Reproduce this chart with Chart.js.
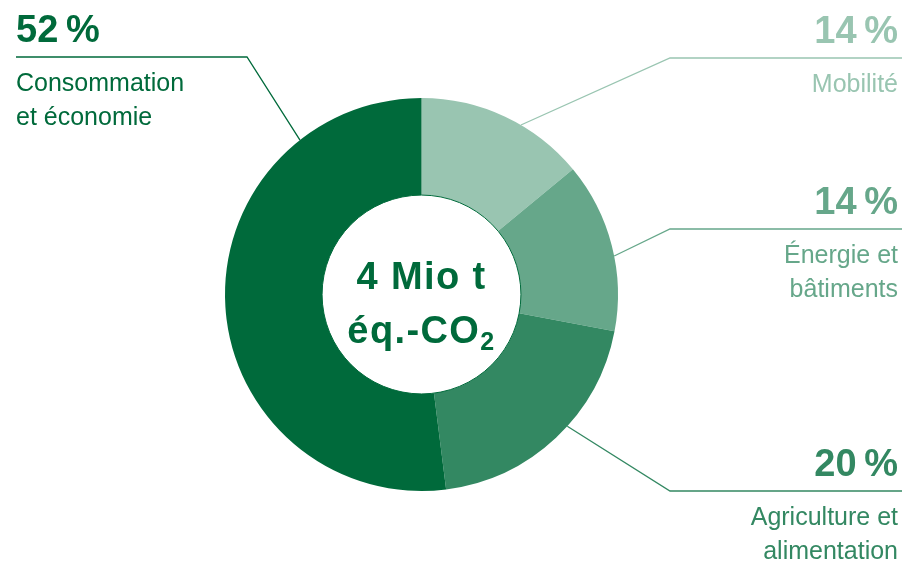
<!DOCTYPE html>
<html lang="fr">
<head>
<meta charset="utf-8">
<title>4 Mio t éq.-CO2</title>
<script src="https://cdn.jsdelivr.net/npm/chart.js@4.4.1/dist/chart.umd.min.js"></script>
<style>
  html, body { margin: 0; padding: 0; background: #ffffff; }
  #wrap { position: relative; width: 904px; height: 571px; }
</style>
</head>
<body>
<div id="wrap"><canvas id="donut"></canvas></div>
<script>
/* =========================
   DATA
========================= */

const categories = ["Mobilité", "Énergie et bâtiments", "Agriculture et alimentation", "Consommation et économie"];
const shares     = [14, 14, 20, 52];
const labelLines = [["Mobilité"], ["Énergie et", "bâtiments"], ["Agriculture et", "alimentation"], ["Consommation", "et économie"]];
const centerText = ["4 Mio t", "éq.-CO", "2"];

/* =========================
   STYLE / LAYOUT
========================= */

const colours = ["#99c5b1", "#66a78a", "#338862", "#006a3b"];
const FONT = '"Liberation Sans", Arial, Helvetica, sans-serif';

// where each callout sits: horizontal rule y, rule ends, angle (deg) where the leader hits the ring
const callouts = [
    { side: "right", lineY: 58,  x0: 670, x1: 902, hitDeg: -59.6 },
    { side: "right", lineY: 229, x0: 670, x1: 902, hitDeg: -11.3 },
    { side: "right", lineY: 491, x0: 670, x1: 902, hitDeg: 42.1 },
    { side: "left",  lineY: 57,  x0: 16,  x1: 247, hitDeg: -128.2 }
];

/* =========================
   CALLOUT PLUGIN
========================= */

const callout = {
    id: "callout",
    afterDatasetsDraw(chart){
        const ctx = chart.ctx;
        const arcs = chart.getDatasetMeta(0).data;
        const ds = chart.data.datasets[0];
        const cx = arcs[0].x, cy = arcs[0].y;

        ctx.save();

        // thin dark rim round the hole (as in the original artwork)
        ctx.strokeStyle = colours[3];
        ctx.lineWidth = 1;
        ctx.beginPath();
        ctx.arc(cx, cy, arcs[0].innerRadius, 0, Math.PI * 2);
        ctx.stroke();

        arcs.forEach((arc, i)=>{
            const c = callouts[i];
            const col = ds.backgroundColor[i];
            const a = c.hitDeg * Math.PI / 180;
            const hx = arc.x + Math.cos(a) * arc.outerRadius;
            const hy = arc.y + Math.sin(a) * arc.outerRadius;
            const elbowX = c.side === "right" ? c.x0 : c.x1;

            // leader line
            ctx.strokeStyle = col;
            ctx.lineWidth = 1.3;
            ctx.beginPath();
            ctx.moveTo(hx, hy);
            ctx.lineTo(elbowX, c.lineY);
            ctx.lineTo(c.side === "right" ? c.x1 : c.x0, c.lineY);
            ctx.stroke();

            // value + label
            const tx = c.side === "right" ? 898 : 16;
            ctx.textAlign = c.side === "right" ? "right" : "left";
            ctx.textBaseline = "alphabetic";
            ctx.fillStyle = col;
            ctx.font = "bold 38px " + FONT;
            ctx.letterSpacing = "1.2px";
            ctx.fillText(ds.data[i] + "\u202F%", tx, c.lineY - 15);

            ctx.font = "25px " + FONT;
            ctx.letterSpacing = "0px";
            labelLines[i].forEach((t, k)=>{
                ctx.fillText(t, tx, c.lineY + 34 + k * 34);
            });
        });

        // center text
        ctx.fillStyle = colours[3];
        ctx.letterSpacing = "1.4px";
        ctx.textAlign = "center";
        ctx.font = "bold 38px " + FONT;
        ctx.fillText(centerText[0], cx, cy - 5.5);

        const w1 = ctx.measureText(centerText[1]).width;
        ctx.font = "bold 25px " + FONT;
        const w2 = ctx.measureText(centerText[2]).width;
        const start = cx - (w1 + w2) / 2;
        ctx.textAlign = "left";
        ctx.font = "bold 38px " + FONT;
        ctx.fillText(centerText[1], start, cy + 48.5);
        ctx.font = "bold 25px " + FONT;
        ctx.fillText(centerText[2], start + w1, cy + 55);
        ctx.restore();
    }
};

/* =========================
   CHART
========================= */

new Chart(document.getElementById("donut"), {
    type: "doughnut",
    data: {
        labels: categories,
        datasets: [{
            data: shares,
            backgroundColor: colours,
            borderWidth: 0
        }]
    },
    options: {
        responsive: true,
        maintainAspectRatio: false,
        animation: false,
        cutout: "50.6%",
        layout: { padding: { left: 225, right: 286, top: 98, bottom: 80 } },
        plugins: {
            legend: { display: false },
            tooltip: { enabled: false }
        }
    },
    plugins: [callout]
});
</script>
</body>
</html>
